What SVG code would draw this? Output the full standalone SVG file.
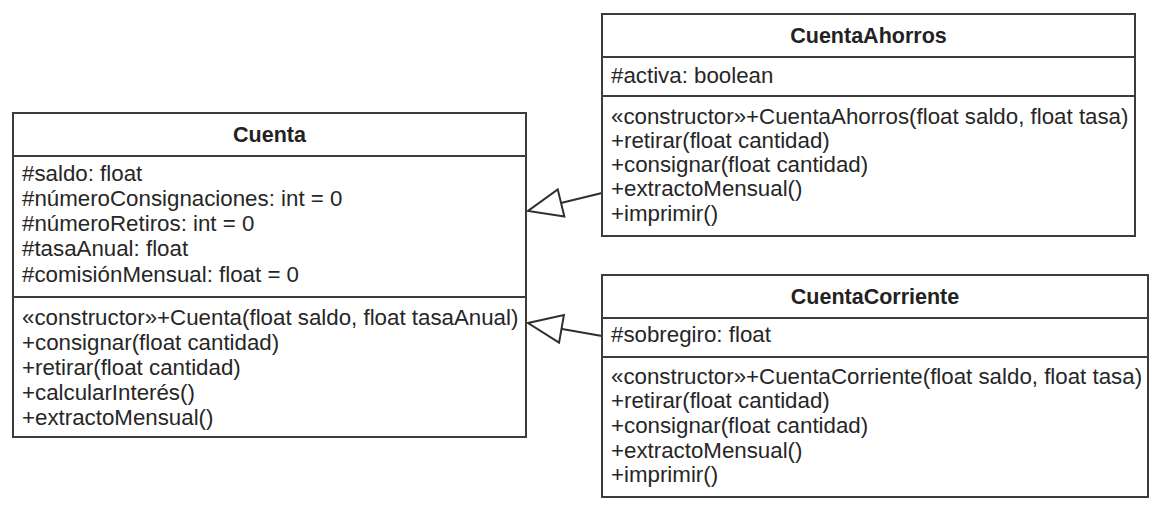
<svg xmlns="http://www.w3.org/2000/svg" width="1160" height="508" viewBox="0 0 1160 508">
  <style>
    .box { fill: #ffffff; stroke: #3c3c3c; stroke-width: 2; }
    .sep { stroke: #3c3c3c; stroke-width: 2; fill: none; }
    .title { font-family: "Liberation Sans", Arial, sans-serif; font-size: 21.5px; font-weight: bold; fill: #222222; text-anchor: middle; }
    .item { font-family: "Liberation Sans", Arial, sans-serif; font-size: 22.3px; fill: #262626; }
    .edge { stroke: #2e2e2e; stroke-width: 2; fill: none; }
  </style>
  <defs>
    <marker id="inherit" markerUnits="userSpaceOnUse" markerWidth="40" markerHeight="34" viewBox="0 0 40 34" refX="36" refY="16" orient="auto" overflow="visible">
      <path d="M 2 2 L 36 16 L 2 30 Z" fill="#ffffff" stroke="#2e2e2e" stroke-width="2" stroke-linejoin="miter"/>
    </marker>
  </defs>
  <rect width="1160" height="508" fill="#ffffff"/>

  <g id="connectors">
    <path class="edge" d="M 602 193 L 528 211" marker-end="url(#inherit)"/>
    <path class="edge" d="M 602 336 L 528 323" marker-end="url(#inherit)"/>
  </g>

  <g id="Cuenta">
    <rect class="box" x="13" y="113" width="513" height="324"/>
    <line class="sep" x1="13" y1="156" x2="526" y2="156"/>
    <line class="sep" x1="13" y1="297" x2="526" y2="297"/>
    <text class="title" x="269.5" y="142">Cuenta</text>
    <text class="item" x="22" y="181">#saldo: float</text>
    <text class="item" x="22" y="206">#númeroConsignaciones: int = 0</text>
    <text class="item" x="22" y="231">#númeroRetiros: int = 0</text>
    <text class="item" x="22" y="256">#tasaAnual: float</text>
    <text class="item" x="22" y="282">#comisiónMensual: float = 0</text>
    <text class="item" x="22" y="325">«constructor»+Cuenta(float saldo, float tasaAnual)</text>
    <text class="item" x="22" y="350">+consignar(float cantidad)</text>
    <text class="item" x="22" y="375">+retirar(float cantidad)</text>
    <text class="item" x="22" y="400">+calcularInterés()</text>
    <text class="item" x="22" y="425">+extractoMensual()</text>
  </g>

  <g id="CuentaAhorros">
    <rect class="box" x="602" y="14" width="533" height="222"/>
    <line class="sep" x1="602" y1="57" x2="1135" y2="57"/>
    <line class="sep" x1="602" y1="96" x2="1135" y2="96"/>
    <text class="title" x="868.5" y="43">CuentaAhorros</text>
    <text class="item" x="611" y="83">#activa: boolean</text>
    <text class="item" x="611" y="124">«constructor»+CuentaAhorros(float saldo, float tasa)</text>
    <text class="item" x="611" y="148">+retirar(float cantidad)</text>
    <text class="item" x="611" y="172">+consignar(float cantidad)</text>
    <text class="item" x="611" y="196">+extractoMensual()</text>
    <text class="item" x="611" y="221">+imprimir()</text>
  </g>

  <g id="CuentaCorriente">
    <rect class="box" x="602" y="275" width="546" height="222"/>
    <line class="sep" x1="602" y1="318" x2="1148" y2="318"/>
    <line class="sep" x1="602" y1="357" x2="1148" y2="357"/>
    <text class="title" x="875" y="304">CuentaCorriente</text>
    <text class="item" x="611" y="342">#sobregiro: float</text>
    <text class="item" x="611" y="384">«constructor»+CuentaCorriente(float saldo, float tasa)</text>
    <text class="item" x="611" y="408">+retirar(float cantidad)</text>
    <text class="item" x="611" y="433">+consignar(float cantidad)</text>
    <text class="item" x="611" y="458">+extractoMensual()</text>
    <text class="item" x="611" y="482">+imprimir()</text>
  </g>
</svg>
